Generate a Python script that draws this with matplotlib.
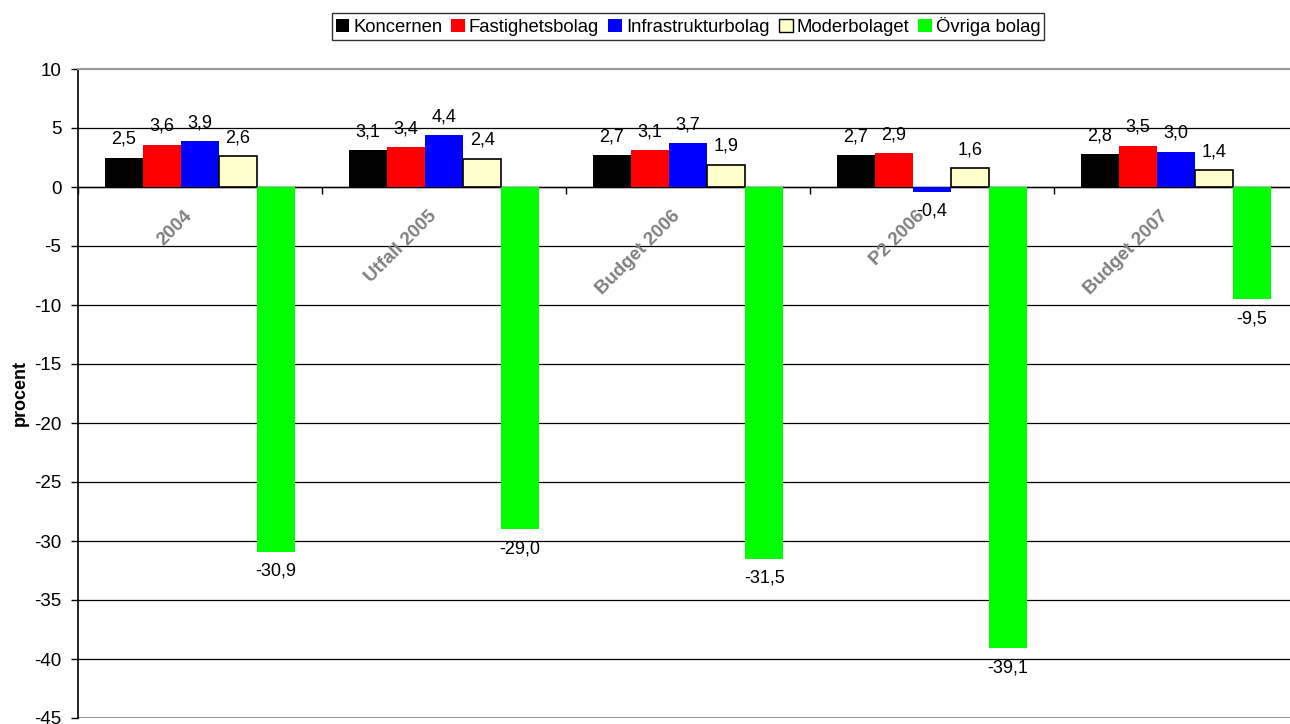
import numpy as np
import matplotlib
matplotlib.use("Agg")
import matplotlib.pyplot as plt

plt.rcParams["font.family"] = ["Liberation Sans", "DejaVu Sans"]
plt.rcParams["axes.unicode_minus"] = False

# =========================================
# Data
# =========================================
categories = ["2004", "Utfall 2005", "Budget 2006", "P2 2006", "Budget 2007"]
series_names = ["Koncernen", "Fastighetsbolag", "Infrastrukturbolag", "Moderbolaget", "Övriga bolag"]

koncernen = [2.5, 3.1, 2.7, 2.7, 2.8]
fastighetsbolag = [3.6, 3.4, 3.1, 2.9, 3.5]
infrastrukturbolag = [3.9, 4.4, 3.7, -0.4, 3.0]
moderbolaget = [2.6, 2.4, 1.9, 1.6, 1.4]
ovriga_bolag = [-30.9, -29.0, -31.5, -39.1, -9.5]

series_values = [koncernen, fastighetsbolag, infrastrukturbolag, moderbolaget, ovriga_bolag]
colors = ["#000000", "#FF0000", "#0000FF", "#FFFFCC", "#00FF00"]
edges = [None, None, None, "#000000", None]

# =========================================
# Plot
# =========================================
fig = plt.figure(figsize=(12.9, 7.24), dpi=100)
ax = fig.add_axes([78 / 1290, 1 - 718 / 724, 1220 / 1290, 649 / 724])

x = np.arange(len(categories))
w = 0.156

for i, (name, vals) in enumerate(zip(series_names, series_values)):
    pos = x + (i - 2) * w
    ec = edges[i] if edges[i] else colors[i]
    lw = 1.2 if edges[i] else 0
    ax.bar(pos, vals, width=w, color=colors[i], edgecolor=ec, linewidth=lw,
           label=name, zorder=3)
    for px, v in zip(pos, vals):
        lab = f"{v:.1f}".replace(".", ",")
        if v >= 0:
            ax.annotate(lab, (px, v), xytext=(0, 7), textcoords="offset points",
                        ha="center", va="bottom", fontsize=13)
        else:
            ax.annotate(lab, (px, v), xytext=(0, -8), textcoords="offset points",
                        ha="center", va="top", fontsize=13)

ax.set_xlim(-0.5, 4.5)
ax.set_ylim(-45, 10)
ax.set_yticks(np.arange(-45, 11, 5))
ax.tick_params(axis="y", labelsize=13.5, length=5, width=1, direction="out", pad=7)
ax.grid(axis="y", color="black", linewidth=0.9, zorder=0)
for val, gl in zip(ax.get_yticks(), ax.get_ygridlines()):
    if val in (10, -45):
        gl.set_color("#999999")
        gl.set_linewidth(1.5)

# category axis at zero
ax.spines["bottom"].set_position(("data", 0))
ax.spines["bottom"].set_linewidth(1)
ax.spines["top"].set_color("#999999")
ax.spines["top"].set_linewidth(1.5)
ax.spines["right"].set_visible(False)
ax.spines["left"].set_linewidth(1.2)
ax.set_xticks(np.arange(-0.5, 5.0, 1.0))
ax.set_xticklabels([])
ax.tick_params(axis="x", length=5, width=1, direction="out")

for xi, cat in zip(x, categories):
    ax.annotate(cat, (xi, 0), xytext=(-3, -15), textcoords="offset points",
                rotation=45, ha="right", va="top", fontsize=13.5,
                fontweight="bold", color="#808080")

ax.set_ylabel("procent", fontsize=13, fontweight="bold", labelpad=4)

leg = ax.legend(loc="lower center", bbox_to_anchor=(0.5, 1.045), ncol=5,
                frameon=True, fancybox=False, edgecolor="black", fontsize=13.3,
                handlelength=0.75, handleheight=0.75, handletextpad=0.2,
                columnspacing=0.5, borderpad=0.2, borderaxespad=0)
leg.get_frame().set_linewidth(1)
for h in leg.legend_handles:
    h.set_edgecolor("black")
    h.set_linewidth(1)
leg.legend_handles[0].set_linewidth(0)
leg.legend_handles[1].set_linewidth(0)
leg.legend_handles[2].set_linewidth(0)
leg.legend_handles[4].set_linewidth(0)

fig.savefig("out.png", dpi=100)
